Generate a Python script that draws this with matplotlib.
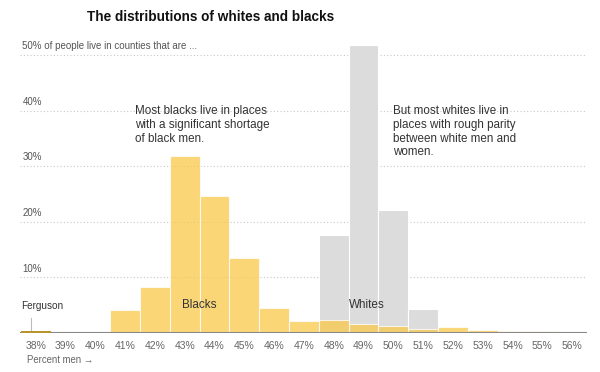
import matplotlib
matplotlib.use("Agg")
import matplotlib.pyplot as plt

pcts = [38, 39, 40, 41, 42, 43, 44, 45, 46, 47, 48, 49, 50, 51, 52, 53, 54, 55, 56]
tick_labels = [f"{p}%" for p in pcts]
blacks = [0.4, 0, 0, 4.2, 8.2, 31.8, 24.6, 13.5, 4.5, 2.2, 2.4, 1.7, 1.3, 0.7, 1.1, 0.5, 0.35, 0.3, 0.2]
whites = [0, 0, 0, 0, 0, 0, 0, 0, 0, 0, 17.6, 51.8, 22.2, 4.4, 0.2, 0.1, 0, 0, 0]
grid_vals = [10, 20, 30, 40, 50]

YELLOW = "#f9c94a"
GRAY = "#dcdcdc"
TXT = "#333333"

plt.rcParams['font.family'] = ['Liberation Sans', 'DejaVu Sans']

fig = plt.figure(figsize=(6, 3.72), dpi=100)
ax = fig.add_axes([0.0333, 0.1048, 0.9450, 0.8222])

ax.bar(pcts, whites, width=1, color=GRAY, edgecolor="white", linewidth=0.8, zorder=2)
ax.bar(pcts, blacks, width=1, color=YELLOW, alpha=0.75, edgecolor="white", linewidth=0.8, zorder=3)
# Ferguson sits in the darker 38% sliver
ax.bar(pcts[0], blacks[0], width=1, color="#b8952c", linewidth=0, zorder=5)

ax.set_xlim(37.47, 56.5)
ax.set_ylim(0, 55)

for g in grid_vals:
    ax.axhline(g, color="#c8c8c8", lw=0.8, ls=(0, (1, 2)), zorder=1)
    label = f"{g}%" if g != 50 else "50% of people live in counties that are ..."
    ax.text(37.55, g + 0.7, label, fontsize=7, color="#555555", va="bottom", ha="left")

ax.axhline(0, color="#888888", lw=1.5, zorder=4)

ax.set_xticks(pcts)
ax.set_xticklabels(tick_labels, fontsize=7.5, color="#666666")
ax.tick_params(axis="x", length=0, pad=6)
ax.set_yticks([])
for s in ax.spines.values():
    s.set_visible(False)

# annotations
ax.text(41.32, 41.0, "Most blacks live in places\nwith a significant shortage\nof black men.",
        fontsize=8.4, color=TXT, va="top", ha="left", linespacing=1.2)
ax.text(49.98, 41.0, "But most whites live in\nplaces with rough parity\nbetween white men and\nwomen.",
        fontsize=8.4, color=TXT, va="top", ha="left", linespacing=1.2)
ax.text(43.5, 5.0, "Blacks", fontsize=8.4, color=TXT, ha="center", va="center", zorder=6)
ax.text(49.1, 5.0, "Whites", fontsize=8.4, color=TXT, ha="center", va="center", zorder=6)
ax.text(37.5, 4.9, "Ferguson", fontsize=7.2, color=TXT, ha="left", va="center")
ax.plot([37.83, 37.83], [0.5, 2.7], color="#bbbbbb", lw=0.8)

fig.text(27 / 600, 1 - 360 / 372, "Percent men \u2192", fontsize=6.9, color="#666666",
         ha="left", va="center")
fig.text(211 / 600, 1 - 17 / 372, "The distributions of whites and blacks", fontsize=9.8,
         fontweight="bold", color="#111111", ha="center", va="center")

fig.savefig("out.png", dpi=100)
